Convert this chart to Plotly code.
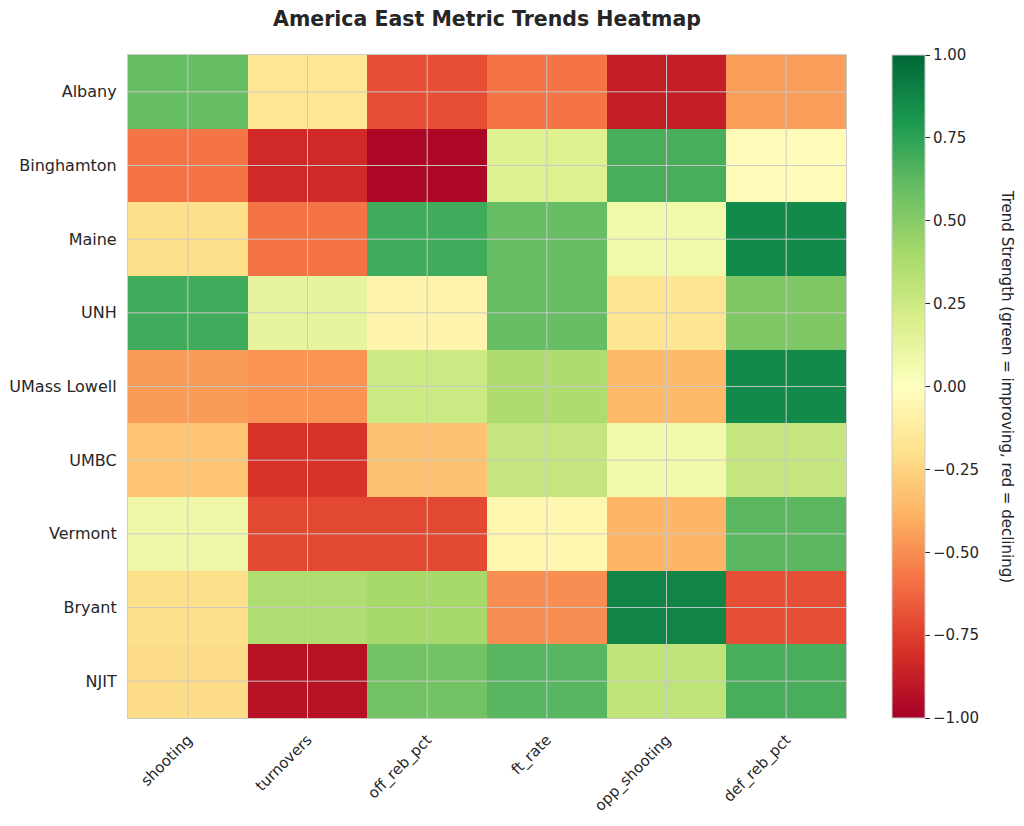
import plotly.graph_objects as go

teams = ["Albany", "Binghamton", "Maine", "UNH", "UMass Lowell", "UMBC", "Vermont", "Bryant", "NJIT"]
metrics = ["shooting", "turnovers", "off_reb_pct", "ft_rate", "opp_shooting", "def_reb_pct"]

# trend strength per team (rows) and metric (columns)
albany     = [0.60, -0.16, -0.70, -0.58, -0.88, -0.45]
binghamton = [-0.58, -0.83, -0.97, 0.18, 0.68, -0.02]
maine      = [-0.20, -0.58, 0.70, 0.60, 0.08, 0.86]
unh        = [0.70, 0.13, -0.07, 0.60, -0.17, 0.52]
umass_low  = [-0.46, -0.48, 0.25, 0.37, -0.36, 0.86]
umbc       = [-0.31, -0.79, -0.32, 0.28, 0.07, 0.28]
vermont    = [0.09, -0.72, -0.72, -0.06, -0.37, 0.63]
bryant     = [-0.20, 0.36, 0.40, -0.50, 0.88, -0.70]
njit       = [-0.21, -0.93, 0.56, 0.64, 0.31, 0.68]

z = [albany, binghamton, maine, unh, umass_low, umbc, vermont, bryant, njit]

cb_ticks = [-1.0, -0.75, -0.5, -0.25, 0.0, 0.25, 0.5, 0.75, 1.0]

rdylgn = [
    [0.0, "#a50026"], [0.1, "#d73027"], [0.2, "#f46d43"], [0.3, "#fdae61"],
    [0.4, "#fee08b"], [0.5, "#ffffbf"], [0.6, "#d9ef8b"], [0.7, "#a6d96a"],
    [0.8, "#66bd63"], [0.9, "#1a9850"], [1.0, "#006837"],
]

FONT = "DejaVu Sans"
TXT = "#262626"
W, H = 1008, 810

fig = go.Figure(go.Heatmap(
    z=z, x=metrics, y=teams,
    colorscale=rdylgn, zmin=-1, zmax=1,
    colorbar=dict(
        thickness=33, len=1.0, lenmode="fraction", y=0.5, yanchor="middle",
        x=1.0641, xanchor="left", xpad=0, ypad=0,
        outlinecolor="#cccccc", outlinewidth=1,
        tickvals=cb_ticks, tickformat=".2f", tickprefix=" ",
        ticks="outside", ticklen=5, tickcolor=TXT, tickwidth=1,
        tickfont=dict(family=FONT, size=15, color=TXT),
    ),
))

# grid lines above the cells at tick positions
grid_color = "rgba(200,200,200,0.95)"
for i in range(len(metrics)):
    fig.add_shape(type="line", xref="x", yref="paper", x0=i, x1=i, y0=0, y1=1,
                  line=dict(color=grid_color, width=1), layer="above")
for j in range(len(teams)):
    fig.add_shape(type="line", xref="paper", yref="y", x0=0, x1=1, y0=j, y1=j,
                  line=dict(color=grid_color, width=1), layer="above")

fig.add_annotation(
    text="Trend Strength (green = improving, red = declining)",
    xref="paper", yref="paper", x=1.2405, y=0.5, textangle=90,
    showarrow=False, font=dict(family=FONT, size=15, color=TXT),
)

fig.update_layout(
    width=W, height=H,
    margin=dict(l=120, r=170, t=47, b=100, autoexpand=False),
    paper_bgcolor="white", plot_bgcolor="white",
    title=dict(text="<b>America East Metric Trends Heatmap</b>",
               x=0.5, xref="paper", xanchor="center",
               y=1 - 11 / H, yref="container", yanchor="middle",
               font=dict(family=FONT, size=20.5, color=TXT)),
    font=dict(family=FONT, size=16, color=TXT),
)
fig.update_xaxes(tickangle=-45, showgrid=False, ticks="", showline=True, mirror=True,
                 linecolor="#cccccc", linewidth=1.25, tickfont=dict(size=15, color=TXT),
                 ticklabelstandoff=6, automargin=False)
fig.update_yaxes(autorange="reversed", showgrid=False, ticks="", showline=True, mirror=True,
                 linecolor="#cccccc", linewidth=1.25, tickfont=dict(size=16, color=TXT),
                 ticklabelstandoff=7, automargin=False)

fig.write_html("out.html")
